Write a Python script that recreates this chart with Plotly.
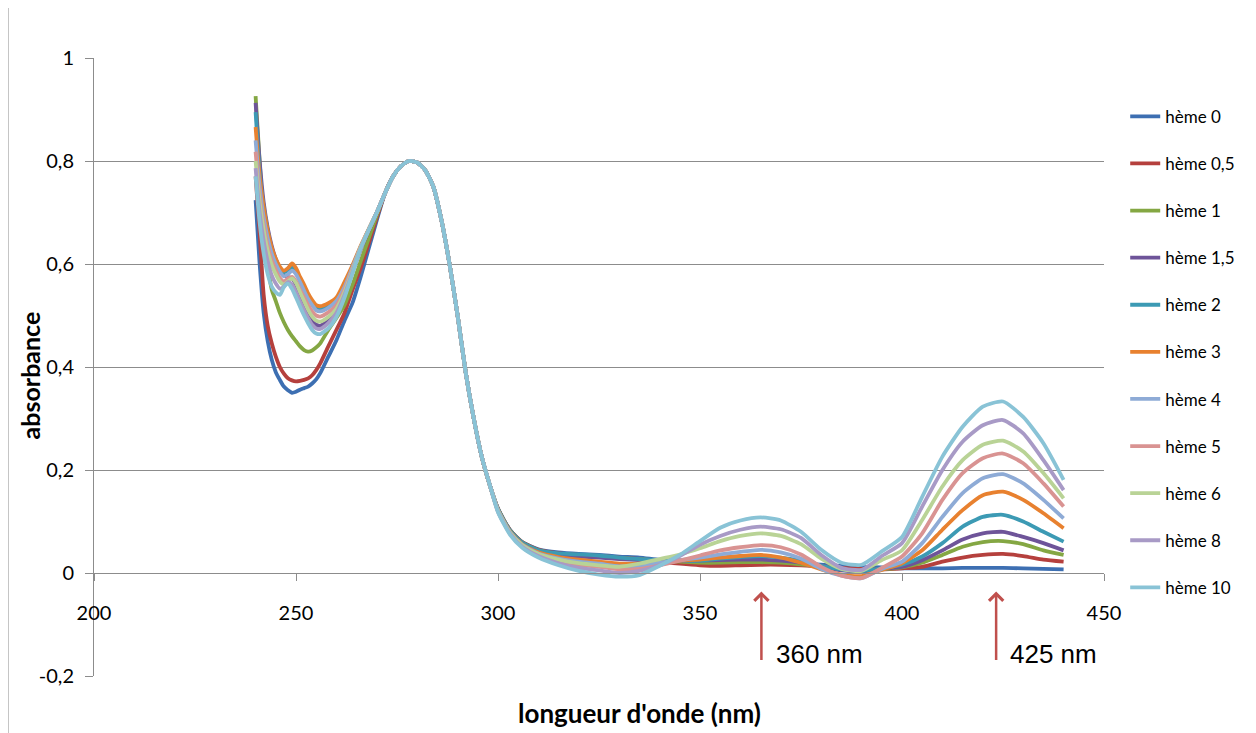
import plotly.graph_objects as go

# Wavelength grid (nm): sample-specific start, shared middle band, sample-specific tail
x_left = [240, 241, 242, 243, 244, 245, 246, 247, 248, 249, 250, 251, 252, 253,
          254, 255, 256, 258, 260, 262, 264, 266, 268, 270]
x_mid = [272, 274, 276, 278, 280, 282, 284, 286, 288, 290, 292, 294, 296, 298]
x_right = [300, 303, 306, 310, 315, 320, 325, 330, 335, 340, 345, 350, 355, 360,
           365, 370, 375, 380, 385, 390, 395, 400, 405, 410, 415, 420, 425, 430,
           435, 440]

# 272-298 nm: all spectra overlap here
mid_abs = [0.737, 0.77, 0.79, 0.80, 0.797, 0.782, 0.75, 0.685, 0.60, 0.50, 0.39,
           0.30, 0.225, 0.17]

names = ["hème 0", "hème 0,5", "hème 1", "hème 1,5", "hème 2", "hème 3",
         "hème 4", "hème 5", "hème 6", "hème 8", "hème 10"]
colors = ["#3d6fb2", "#b5403d", "#84a743", "#6e5499", "#3c9ab4", "#e8812f",
          "#8eabd6", "#d99392", "#b9d396", "#a89ac6", "#89c3d6"]

left_abs = [
    [0.724, 0.60, 0.505, 0.45, 0.414, 0.39, 0.375, 0.362, 0.355, 0.35, 0.352, 0.356,
     0.359, 0.362, 0.368, 0.376, 0.388, 0.42, 0.452, 0.49, 0.525, 0.575, 0.63, 0.685],
    [0.77, 0.66, 0.54, 0.48, 0.446, 0.42, 0.40, 0.387, 0.378, 0.374, 0.372, 0.373,
     0.375, 0.378, 0.384, 0.394, 0.407, 0.44, 0.472, 0.505, 0.55, 0.592, 0.64, 0.69],
    [0.926, 0.80, 0.68, 0.60, 0.55, 0.528, 0.505, 0.487, 0.472, 0.46, 0.45, 0.44,
     0.433, 0.43, 0.432, 0.438, 0.446, 0.472, 0.495, 0.52, 0.56, 0.605, 0.65, 0.695],
    [0.913, 0.80, 0.72, 0.67, 0.635, 0.61, 0.592, 0.578, 0.575, 0.572, 0.56, 0.54,
     0.52, 0.503, 0.49, 0.482, 0.48, 0.49, 0.51, 0.543, 0.585, 0.628, 0.665, 0.70],
    [0.895, 0.78, 0.71, 0.665, 0.628, 0.605, 0.59, 0.584, 0.588, 0.594, 0.585, 0.568,
     0.552, 0.537, 0.524, 0.514, 0.512, 0.518, 0.53, 0.557, 0.595, 0.632, 0.667, 0.70],
    [0.866, 0.77, 0.71, 0.665, 0.632, 0.61, 0.595, 0.587, 0.592, 0.601, 0.592, 0.575,
     0.56, 0.543, 0.53, 0.52, 0.518, 0.524, 0.535, 0.565, 0.598, 0.635, 0.668, 0.70],
    [0.84, 0.75, 0.69, 0.65, 0.62, 0.60, 0.585, 0.576, 0.58, 0.587, 0.58, 0.565,
     0.548, 0.532, 0.52, 0.51, 0.508, 0.515, 0.528, 0.555, 0.594, 0.633, 0.667, 0.70],
    [0.818, 0.73, 0.675, 0.635, 0.607, 0.588, 0.573, 0.566, 0.572, 0.575, 0.566, 0.55,
     0.535, 0.52, 0.508, 0.50, 0.498, 0.506, 0.52, 0.55, 0.59, 0.632, 0.667, 0.70],
    [0.80, 0.72, 0.665, 0.625, 0.598, 0.58, 0.566, 0.56, 0.566, 0.572, 0.563, 0.545,
     0.528, 0.511, 0.498, 0.49, 0.488, 0.497, 0.513, 0.545, 0.588, 0.632, 0.667, 0.70],
    [0.786, 0.70, 0.645, 0.605, 0.578, 0.562, 0.552, 0.556, 0.565, 0.56, 0.545, 0.527,
     0.51, 0.495, 0.482, 0.475, 0.474, 0.485, 0.505, 0.54, 0.585, 0.63, 0.666, 0.70],
    [0.77, 0.68, 0.62, 0.58, 0.556, 0.545, 0.54, 0.555, 0.562, 0.552, 0.535, 0.517,
     0.50, 0.485, 0.472, 0.465, 0.464, 0.475, 0.497, 0.535, 0.582, 0.63, 0.666, 0.70],
]

right_abs = [
    [0.125, 0.083, 0.06, 0.046, 0.04, 0.037, 0.035, 0.032, 0.03, 0.026, 0.024, 0.022,
     0.021, 0.02, 0.02, 0.019, 0.018, 0.016, 0.014, 0.012, 0.011, 0.009, 0.009, 0.009,
     0.01, 0.01, 0.01, 0.009, 0.008, 0.007],
    [0.125, 0.083, 0.06, 0.045, 0.038, 0.035, 0.033, 0.03, 0.027, 0.022, 0.018, 0.015,
     0.014, 0.015, 0.016, 0.016, 0.015, 0.013, 0.01, 0.008, 0.007, 0.009, 0.012, 0.022,
     0.03, 0.035, 0.037, 0.033, 0.026, 0.022],
    [0.124, 0.082, 0.059, 0.044, 0.037, 0.034, 0.032, 0.029, 0.027, 0.024, 0.022, 0.02,
     0.02, 0.021, 0.021, 0.02, 0.017, 0.012, 0.007, 0.005, 0.007, 0.011, 0.02, 0.035,
     0.051, 0.06, 0.062, 0.056, 0.044, 0.035],
    [0.123, 0.081, 0.058, 0.043, 0.035, 0.032, 0.03, 0.027, 0.025, 0.024, 0.024, 0.024,
     0.025, 0.026, 0.026, 0.024, 0.02, 0.013, 0.005, 0.003, 0.008, 0.012, 0.025, 0.044,
     0.065, 0.077, 0.08, 0.07, 0.058, 0.044],
    [0.124, 0.082, 0.059, 0.044, 0.038, 0.036, 0.034, 0.03, 0.027, 0.025, 0.024, 0.024,
     0.028, 0.031, 0.033, 0.03, 0.024, 0.014, 0.007, 0.004, 0.009, 0.016, 0.032, 0.058,
     0.09, 0.109, 0.113, 0.1, 0.08, 0.061],
    [0.122, 0.08, 0.056, 0.04, 0.031, 0.026, 0.022, 0.018, 0.018, 0.02, 0.024, 0.026,
     0.03, 0.033, 0.035, 0.03, 0.02, 0.007, -0.003, -0.006, 0.006, 0.019, 0.044, 0.084,
     0.122, 0.151, 0.158, 0.142, 0.116, 0.087],
    [0.122, 0.079, 0.055, 0.038, 0.028, 0.022, 0.018, 0.013, 0.014, 0.02, 0.025, 0.03,
     0.036, 0.041, 0.045, 0.04, 0.028, 0.008, -0.005, -0.01, 0.008, 0.022, 0.058, 0.109,
     0.155, 0.184, 0.192, 0.174, 0.142, 0.106],
    [0.12, 0.077, 0.053, 0.035, 0.023, 0.016, 0.012, 0.007, 0.008, 0.015, 0.024, 0.034,
     0.044, 0.05, 0.054, 0.05, 0.036, 0.012, -0.005, -0.01, 0.01, 0.032, 0.077, 0.142,
     0.194, 0.223, 0.232, 0.213, 0.174, 0.129],
    [0.121, 0.078, 0.054, 0.037, 0.026, 0.019, 0.015, 0.012, 0.018, 0.027, 0.036, 0.048,
     0.062, 0.072, 0.077, 0.072, 0.056, 0.028, 0.008, 0.004, 0.025, 0.044, 0.103, 0.168,
     0.219, 0.249, 0.257, 0.236, 0.194, 0.145],
    [0.119, 0.076, 0.051, 0.033, 0.019, 0.01, 0.005, 0.0, 0.004, 0.015, 0.033, 0.055,
     0.072, 0.084, 0.09, 0.085, 0.068, 0.035, 0.01, 0.006, 0.033, 0.058, 0.129, 0.2,
     0.255, 0.287, 0.297, 0.271, 0.219, 0.161],
    [0.118, 0.074, 0.049, 0.03, 0.015, 0.004, -0.003, -0.007, -0.004, 0.014, 0.035, 0.062,
     0.088, 0.102, 0.108, 0.102, 0.08, 0.045, 0.02, 0.016, 0.042, 0.07, 0.148, 0.226,
     0.284, 0.323, 0.333, 0.303, 0.252, 0.181],
]

y_ticks = [-0.2, 0, 0.2, 0.4, 0.6, 0.8, 1]
y_ticktext = ["-0,2", "0", "0,2", "0,4", "0,6", "0,8", "1"]
x_ticks = [200, 250, 300, 350, 400, 450]

FONT = "Lato, Carlito, Calibri, sans-serif"
GRID = "#8c8c8c"

wavelength = x_left + x_mid + x_right

fig = go.Figure()
for i, name in enumerate(names):
    fig.add_trace(go.Scatter(
        x=wavelength,
        y=left_abs[i] + mid_abs + right_abs[i],
        mode="lines",
        name=name,
        legendgroup=name,
        line=dict(color=colors[i], width=3.8, shape="spline", smoothing=0.6),
    ))

# the page body adds 8px around the figure, so the figure is 8px smaller
fig.update_layout(
    width=1248, height=725,
    margin=dict(l=86, r=152, t=50, b=57),
    plot_bgcolor="white", paper_bgcolor="white",
    font=dict(family=FONT, size=20, color="#000000"),
    showlegend=True,
    legend=dict(x=1.021, y=0.934, xanchor="left", yanchor="top",
                font=dict(family=FONT, size=17, color="#000000"),
                tracegroupgap=22, bgcolor="rgba(0,0,0,0)"),
)

fig.update_xaxes(
    range=[200, 450], tickvals=x_ticks,
    anchor="free", position=1 / 6,
    showline=True, linecolor=GRID, linewidth=1,
    ticks="outside", ticklen=7, tickcolor=GRID,
    ticklabelstandoff=15,
    showgrid=False, zeroline=False, automargin=False,
)
fig.update_yaxes(
    range=[-0.2, 1], tickvals=y_ticks, ticktext=y_ticktext,
    showline=True, linecolor=GRID, linewidth=1,
    ticks="outside", ticklen=8, tickcolor=GRID,
    ticklabelstandoff=7,
    showgrid=True, gridcolor=GRID, gridwidth=1,
    zeroline=False, automargin=False,
)

# left border of the chart area
fig.add_shape(type="line", xref="paper", yref="paper",
              x0=-0.085, x1=-0.085, y0=-0.1, y1=1.1,
              line=dict(color="#a6a6a6", width=1))

# axis titles
fig.add_annotation(text="<b>absorbance</b>", xref="paper", yref="paper",
                   x=-0.063, y=0.487, xanchor="center", yanchor="middle",
                   textangle=-90, showarrow=False,
                   font=dict(family=FONT, size=25))
fig.add_annotation(text="<b>longueur d'onde (nm)</b>", xref="paper", yref="paper",
                   x=0.54, y=-0.06, xanchor="center", yanchor="middle", showarrow=False,
                   font=dict(family=FONT, size=26))

# markers for the two absorption bands
ARROW = "#c0504d"
for xa, label in [(365.2, "360 nm"), (423.3, "425 nm")]:
    fig.add_annotation(x=xa, y=-0.036, ax=0, ay=70, text="", showarrow=True,
                       arrowhead=4, arrowsize=1.1, arrowwidth=2.5, arrowcolor=ARROW)
    fig.add_annotation(x=xa + 3.0, y=-0.158, text=label, showarrow=False,
                       xanchor="left", yanchor="middle",
                       font=dict(family="Liberation Sans, Arial", size=26, color="#000000"))

fig.write_html("out.html")
